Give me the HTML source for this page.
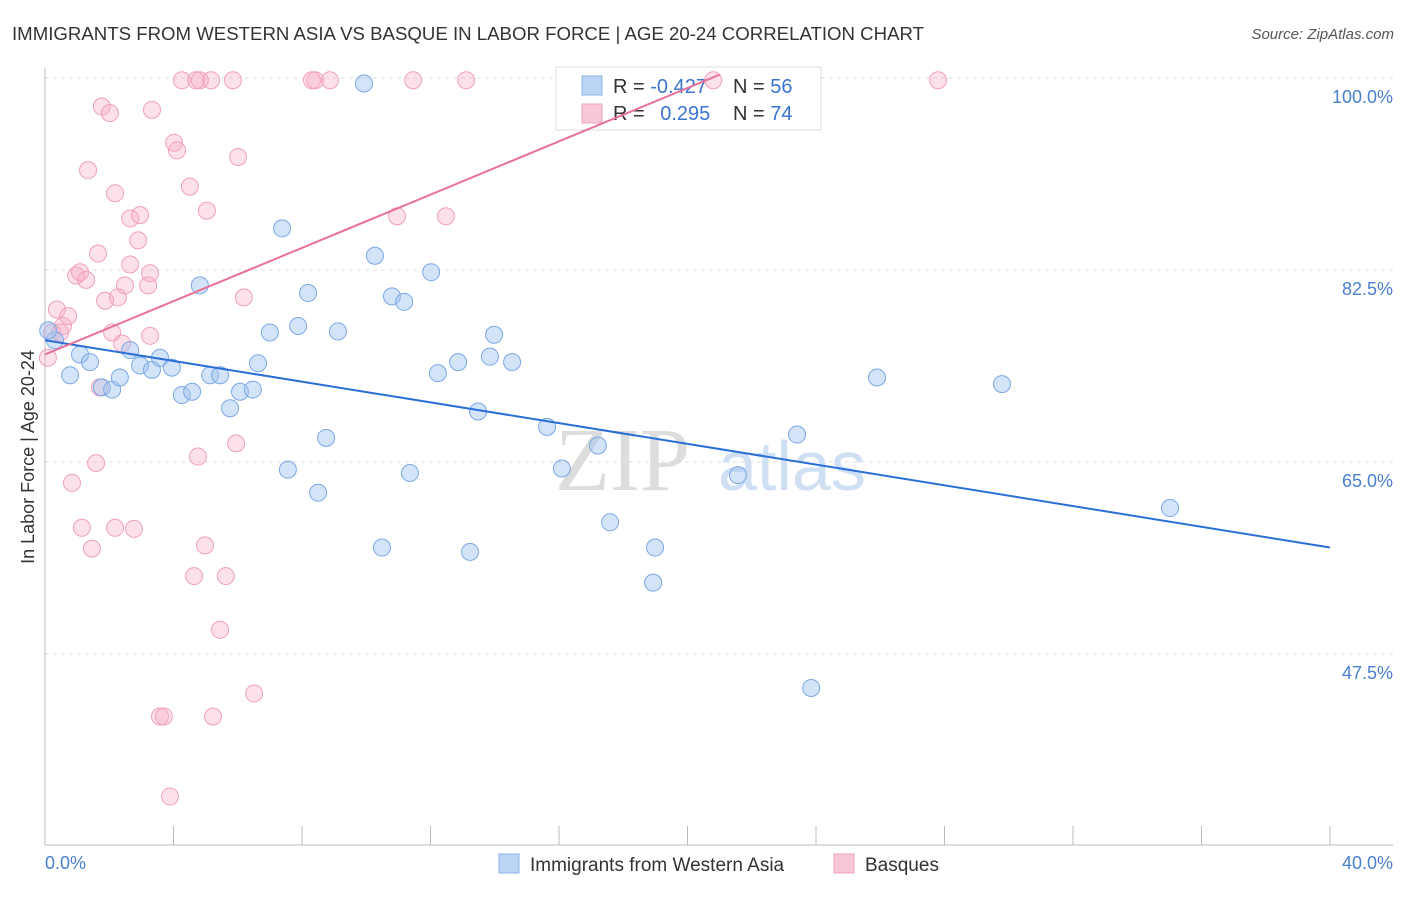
<!DOCTYPE html>
<html><head><meta charset="utf-8"><style>
body{margin:0;background:#fff;font-family:"Liberation Sans",sans-serif}
</style></head><body>
<svg id="c" width="1406" height="892" xmlns="http://www.w3.org/2000/svg">
<text x="12" y="40" font-size="18" fill="#333" textLength="912" lengthAdjust="spacingAndGlyphs">IMMIGRANTS FROM WESTERN ASIA VS BASQUE IN LABOR FORCE | AGE 20-24 CORRELATION CHART</text>
<text x="1394" y="39" font-size="15" fill="#555" font-style="italic" text-anchor="end">Source: ZipAtlas.com</text>
<g id="grid"></g>
<text x="555" y="490" font-size="90" fill="#ddd" font-family="Liberation Serif">ZIP</text>
<text x="718" y="490" font-size="70" fill="#cfe0f5">atlas</text>
<g>
<rect x="556" y="67" width="265" height="63" fill="#fff" stroke="#ddd"/>
<rect x="582" y="76" width="20" height="19" fill="#bcd4f5" stroke="#8ab4e8"/>
<rect x="582" y="104" width="20" height="19" fill="#f9c8d8" stroke="#f0a0bc"/>
<text x="613" y="93" font-size="20" fill="#333">R = <tspan fill="#3a74d0">-0.427</tspan></text>
<text x="733" y="93" font-size="20" fill="#333">N = <tspan fill="#3a74d0">56</tspan></text>
<text x="613" y="120" font-size="20" fill="#333">R = <tspan fill="#3a74d0" dx="10">0.295</tspan></text>
<text x="733" y="120" font-size="20" fill="#333">N = <tspan fill="#3a74d0">74</tspan></text>
</g>
<g id="marks"></g>
<text transform="translate(34,457) rotate(-90)" font-size="18" fill="#333" text-anchor="middle">In Labor Force | Age 20-24</text>
<text x="45" y="869" font-size="18" fill="#4a80d0">0.0%</text>
<text x="1393" y="869" font-size="18" fill="#4a80d0" text-anchor="end">40.0%</text>
<g>
<rect x="499" y="854" width="20" height="19" fill="#bcd4f5" stroke="#8ab4e8"/>
<text x="530" y="871" font-size="19" fill="#333">Immigrants from Western Asia</text>
<rect x="834" y="854" width="20" height="19" fill="#f9c8d8" stroke="#f0a0bc"/>
<text x="865" y="871" font-size="19" fill="#333">Basques</text>
</g>
</svg>
<script>
const blueX=[0.31,0.78,1.09,1.40,1.77,2.09,2.33,2.65,2.96,3.33,3.58,3.95,4.26,4.58,4.82,5.14,5.45,5.76,6.07,6.47,6.63,7.00,7.38,7.56,7.88,8.19,8.50,8.75,9.12,9.93,10.27,10.49,10.80,11.18,11.36,12.02,12.23,12.86,13.23,13.48,13.85,13.98,14.54,15.63,16.09,17.21,17.59,18.93,18.99,21.57,23.41,23.85,25.90,29.79,35.02,0.1];
const blueY=[76.1,72.9,74.8,74.1,71.8,71.6,72.7,75.2,73.8,73.4,74.5,73.6,71.1,71.4,81.1,72.9,72.9,69.9,71.4,71.6,74.0,76.8,86.3,64.3,77.4,80.4,62.2,67.2,76.9,99.5,83.8,57.2,80.1,79.6,64.0,82.3,73.1,74.1,56.8,69.6,74.6,76.6,74.1,68.2,64.4,66.5,59.5,54.0,57.2,63.8,67.5,44.4,72.7,72.1,60.8,77.0];
const pinkX=[0.09,0.22,0.37,0.47,0.56,0.72,0.84,0.97,1.09,1.15,1.28,1.34,1.46,1.59,1.65,1.71,1.77,1.87,2.02,2.09,2.18,2.18,2.27,2.49,2.65,2.65,2.77,2.90,2.96,3.21,3.27,3.33,3.27,3.58,3.70,3.89,4.02,4.11,4.26,4.51,4.64,4.76,4.82,4.98,5.04,5.17,5.23,5.45,5.63,5.85,5.95,6.01,6.19,6.51,8.31,8.41,8.87,10.96,11.46,12.48,13.11,20.80,27.80,2.40,4.70];
const pinkY=[74.5,76.8,78.9,76.8,77.4,78.3,63.1,82.0,82.3,59.0,81.6,91.6,57.1,64.9,84.0,71.8,97.4,79.7,96.8,76.8,89.5,59.0,80.0,81.1,87.2,83.0,58.9,85.2,87.5,81.1,76.5,97.1,82.2,41.8,41.8,34.5,94.1,93.4,99.8,90.1,54.6,65.5,99.8,57.4,87.9,99.8,41.8,49.7,54.6,99.8,66.7,92.8,80.0,43.9,99.8,99.8,99.8,87.4,99.8,87.4,99.8,99.8,99.8,75.8,99.8];
const blueTrend=[0,76.1,40,57.2];
const pinkTrend=[0,74.8,21.0,100.3];
const yTicks=[100,82.5,65,47.5];
const yTickLabels=["100.0%","82.5%","65.0%","47.5%"];
const xTicks=[0,4,8,12,16,20,24,28,32,36,40];
const NS="http://www.w3.org/2000/svg";
const sx=v=>45+v*32.125;
const sy=v=>270-(v-82.5)*10.97;
function mk(tag,at,parent){const e=document.createElementNS(NS,tag);for(const k in at)e.setAttribute(k,at[k]);document.getElementById(parent).appendChild(e);return e;}
yTicks.forEach((t,i)=>{
 const l=mk('line',{x1:45,x2:1393,y1:sy(t),y2:sy(t),stroke:'#ddd','stroke-dasharray':'4,4'},'grid');
 
 
 const tx=mk('text',{x:1393,y:sy(t)+25,'font-size':18,fill:'#4a80d0','text-anchor':'end'},'grid');
 tx.textContent=yTickLabels[i];
 
 
});
const ax=mk('line',{x1:45,x2:1393,y1:845,y2:845,stroke:'#bbb'},'grid');


const ay=mk('line',{x1:45,x2:45,y1:68,y2:845,stroke:'#bbb'},'grid');


xTicks.forEach(t=>{
 const l=mk('line',{x1:sx(t),x2:sx(t),y1:826,y2:845,stroke:'#bbb'},'grid');
 
 
});
function pts(X,Y,fill,stroke,name){
 X.forEach((x,i)=>{
  const c=mk('circle',{cx:sx(x),cy:sy(Y[i]),r:8.5,fill:fill,stroke:stroke,'stroke-width':1},'marks');
  
  
 });
}
pts(pinkX,pinkY,'rgba(246,170,196,0.35)','#f0a0bc','basque-point');
pts(blueX,blueY,'rgba(160,196,240,0.45)','#7aa8e4','western-asia-point');
const bt=mk('line',{x1:sx(blueTrend[0]),y1:sy(blueTrend[1]),x2:sx(blueTrend[2]),y2:sy(blueTrend[3]),stroke:'#2a6fd6','stroke-width':2},'marks');


const pt=mk('line',{x1:sx(pinkTrend[0]),y1:sy(pinkTrend[1]),x2:sx(pinkTrend[2]),y2:sy(pinkTrend[3]),stroke:'#e8709a','stroke-width':2},'marks');


</script>
</body></html>
